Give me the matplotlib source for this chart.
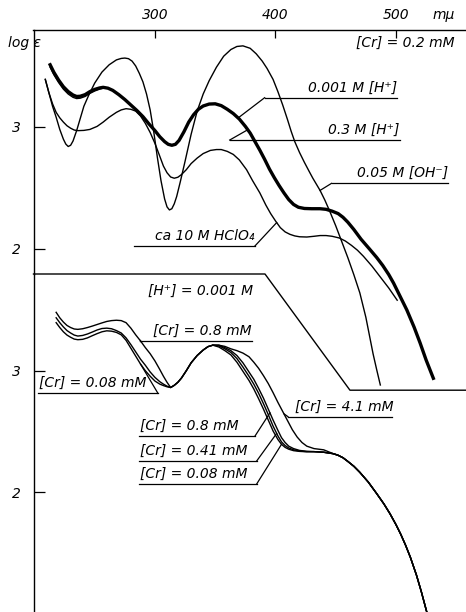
import numpy as np
from matplotlib import pyplot as plt

plt.rcParams['font.family'] = ['DejaVu Sans']
plt.rcParams['font.style'] = 'italic'
plt.rcParams['font.size'] = 10

# --- upper panel, [Cr] = 0.2 mM ---
lam_oh = [209, 212, 215, 218, 221, 224, 226, 228, 230, 232, 235, 238, 241, 245, 250, 256, 262, 268,
          272, 275, 278, 281, 284, 287, 290, 293, 296, 299, 302, 305, 308, 310, 312, 314, 316, 318,
          321, 325, 330, 335, 340, 345, 351, 357, 363, 368, 373, 379, 384, 389, 393, 398, 402, 406,
          410, 413, 416, 420, 424, 428, 431, 434, 437, 441, 445, 450, 455, 460, 465, 470, 475, 478,
          481, 484, 487]
loge_oh = [3.39, 3.28, 3.17, 3.08, 2.98, 2.90, 2.86, 2.84, 2.85, 2.885, 2.97, 3.07, 3.17, 3.26, 3.36,
           3.45, 3.51, 3.55, 3.562, 3.565, 3.56, 3.54, 3.50, 3.44, 3.37, 3.27, 3.14, 2.96, 2.75, 2.56,
           2.41, 2.345, 2.32, 2.33, 2.37, 2.43, 2.55, 2.72, 2.94, 3.13, 3.27, 3.38, 3.49, 3.58, 3.635,
           3.66, 3.665, 3.645, 3.60, 3.54, 3.48, 3.39, 3.29, 3.18, 3.06, 2.965, 2.88, 2.79, 2.71,
           2.635, 2.58, 2.53, 2.48, 2.40, 2.31, 2.19, 2.06, 1.93, 1.79, 1.64, 1.44, 1.29, 1.14, 1.01,
           0.885]

lam_h = [213, 216, 220, 224, 228, 232, 235, 238, 242, 246, 250, 254, 257, 261, 265, 270, 275, 280,
         285, 290, 295, 300, 304, 308, 311, 314, 317, 320, 324, 328, 332, 336, 340, 345, 350, 355,
         360, 365, 370, 375, 379, 383, 387, 391, 395, 399, 403, 407, 411, 415, 419, 424, 430, 437,
         442, 447, 452, 456, 460, 465, 471, 478, 484, 489, 494, 498, 503, 509, 515, 520, 525, 531]
loge_h001 = [3.51, 3.45, 3.385, 3.33, 3.29, 3.262, 3.25, 3.252, 3.265, 3.29, 3.308, 3.32, 3.325,
             3.318, 3.30, 3.265, 3.225, 3.18, 3.135, 3.085, 3.025, 2.97, 2.92, 2.88, 2.858, 2.85,
             2.858, 2.89, 2.96, 3.04, 3.10, 3.145, 3.172, 3.188, 3.19, 3.175, 3.145, 3.11, 3.065,
             3.005, 2.95, 2.88, 2.81, 2.735, 2.655, 2.585, 2.52, 2.46, 2.405, 2.365, 2.342, 2.332,
             2.33, 2.33, 2.325, 2.31, 2.29, 2.26, 2.22, 2.16, 2.08, 2.00, 1.93, 1.865, 1.79, 1.72,
             1.62, 1.50, 1.36, 1.23, 1.09, 0.94]
loge_h03_start = [3.49, 3.43, 3.365, 3.31, 3.27, 3.243, 3.233, 3.236, 3.25, 3.275, 3.295, 3.31, 3.318]
loge_h03 = loge_h03_start + loge_h001[len(loge_h03_start):]

lam_hclo4 = [209, 212, 215, 218, 221, 224, 227, 230, 233, 236, 241, 246, 252, 257, 262, 268, 272,
             276, 280, 284, 288, 292, 296, 300, 304, 307, 310, 313, 316, 319, 322, 326, 330, 335,
             340, 346, 351, 355, 360, 365, 370, 376, 381, 387, 392, 396, 400, 404, 408, 412, 416,
             420, 426, 432, 437, 442, 447, 453, 458, 463, 468, 473, 480, 487, 494, 501]
loge_hclo4 = [3.39, 3.28, 3.19, 3.12, 3.075, 3.04, 3.01, 2.99, 2.975, 2.97, 2.972, 2.98, 3.005,
              3.04, 3.08, 3.12, 3.14, 3.15, 3.145, 3.13, 3.09, 3.03, 2.955, 2.865, 2.76, 2.68,
              2.625, 2.59, 2.58, 2.588, 2.61, 2.65, 2.70, 2.745, 2.782, 2.808, 2.815, 2.815, 2.80,
              2.775, 2.73, 2.65, 2.56, 2.46, 2.36, 2.29, 2.23, 2.175, 2.14, 2.12, 2.107, 2.10, 2.098,
              2.104, 2.11, 2.11, 2.104, 2.09, 2.065, 2.03, 1.99, 1.94, 1.86, 1.77, 1.68, 1.58]

# --- lower panel, [H+] = 0.001 M ---
lam_b_head = [218, 221, 224, 227, 230, 233, 236, 240, 244, 248, 252, 256, 260, 264, 268, 272, 276,
              280, 284, 288, 292, 296, 300, 304, 307, 310]
head_008 = [3.395, 3.355, 3.32, 3.293, 3.275, 3.26, 3.255, 3.258, 3.27, 3.288, 3.305, 3.32, 3.328,
            3.325, 3.315, 3.295, 3.25, 3.185, 3.12, 3.055, 3.0, 2.955, 2.915, 2.89, 2.878, 2.868]
head_041 = [3.435, 3.395, 3.36, 3.33, 3.31, 3.293, 3.285, 3.29, 3.302, 3.318, 3.335, 3.347, 3.35,
            3.345, 3.33, 3.31, 3.27, 3.215, 3.155, 3.095, 3.045, 2.99, 2.945, 2.91, 2.89, 2.873]
head_08 = [3.48, 3.435, 3.40, 3.372, 3.355, 3.343, 3.34, 3.345, 3.355, 3.367, 3.38, 3.393, 3.405,
           3.412, 3.415, 3.412, 3.395, 3.35, 3.295, 3.245, 3.19, 3.14, 3.08, 3.01, 2.955, 2.905]
lam_b_mid = [313, 316, 319, 322, 326, 330, 335, 340, 344, 348]
mid_all = [2.862, 2.88, 2.905, 2.94, 3.0, 3.065, 3.125, 3.17, 3.198, 3.21]
lam_b_flank = [353, 358, 363, 368, 373, 378, 382, 386, 390, 394, 398, 402, 405, 408, 411, 415, 420, 426]
flank_008 = [3.195, 3.165, 3.13, 3.07, 2.995, 2.92, 2.85, 2.77, 2.685, 2.595, 2.505, 2.435, 2.395,
             2.37, 2.355, 2.343, 2.337, 2.334]
flank_041 = [3.205, 3.18, 3.15, 3.10, 3.03, 2.955, 2.89, 2.815, 2.73, 2.64, 2.545, 2.465, 2.415,
             2.385, 2.365, 2.35, 2.34, 2.335]
flank_08 = [3.21, 3.19, 3.165, 3.125, 3.065, 2.99, 2.93, 2.855, 2.775, 2.685, 2.595, 2.51, 2.45,
            2.41, 2.38, 2.36, 2.345, 2.338]
lam_41 = [348, 353, 358, 363, 368, 373, 378, 382, 386, 390, 394, 398, 402, 406, 410, 414, 418, 422,
          426, 432, 440]
loge_41 = [3.21, 3.21, 3.20, 3.18, 3.165, 3.145, 3.115, 3.07, 3.02, 2.96, 2.895, 2.82, 2.74, 2.665,
           2.59, 2.515, 2.455, 2.41, 2.38, 2.36, 2.35]
lam_b_tail = [432, 440, 448, 452, 456, 460, 465, 470, 477, 484, 490, 495, 500, 504, 508, 512, 517,
              521, 526]
tail_all = [2.335, 2.33, 2.318, 2.305, 2.285, 2.255, 2.215, 2.165, 2.085, 1.99, 1.905, 1.825, 1.735,
            1.655, 1.565, 1.465, 1.32, 1.185, 1.00]


def build(head, flank):
    lam = lam_b_head + lam_b_mid + lam_b_flank + lam_b_tail
    val = head + mid_all + flank + tail_all
    return np.array(lam), np.array(val)


def label(ax, txt, x0, x1, y, lam, curve, leader_from, ha='right', tx=None):
    # underline + leader line to the curve, text sitting on the underline
    cx, cy = curve
    ax.plot([x0, x1], [y, y], color='k', lw=0.9)
    lx = x0 if leader_from == 'left' else x1
    ax.plot([lx, lam], [y, np.interp(lam, cx, cy)], color='k', lw=0.9)
    if tx is None:
        tx = x1 if ha == 'right' else x0
    ax.text(tx, y + 0.025, txt, ha=ha, va='bottom', fontsize=10)


W, H = 466, 612
fig = plt.figure(figsize=(W / 100, H / 100), dpi=100)
left = 33.5 / W
xlim = (199.2, 558.1)

ax = fig.add_axes([left, 1 - 400 / H, 1 - left, 370 / H])
axb = fig.add_axes([left, 0, 1 - left, 338 / H])
for a in (ax, axb):
    a.patch.set_alpha(0)
    a.set_xlim(*xlim)
    a.spines['right'].set_visible(False)
    a.spines['bottom'].set_visible(False)
    for s in a.spines.values():
        s.set_linewidth(1.0)
    a.set_yticks([2, 3])
    a.tick_params(axis='y', direction='in', length=8, width=0.9, pad=9, labelsize=10)

ax.set_ylim(0.762, 3.795)
ax.spines['left'].set_bounds(1.795, 3.795)
ax.xaxis.tick_top()
ax.set_xticks([300, 400, 500])
ax.tick_params(axis='x', direction='in', length=6, width=0.9, pad=6, labelsize=10)

axb.set_ylim(1.017, 3.795)
axb.spines['top'].set_visible(False)
axb.set_xticks([])

# upper panel curves
ax.plot(lam_oh, loge_oh, color='k', lw=1.0)
ax.plot(lam_hclo4, loge_hclo4, color='k', lw=1.0)
ax.plot(lam_h, loge_h03, color='k', lw=1.0)
ax.plot(lam_h, loge_h001, color='k', lw=2.4)

label(ax, '0.001 M [H\u207a]', 391, 501, 3.24, 369, (lam_h, loge_h001), 'left')
label(ax, '0.3 M [H\u207a]', 362, 503, 2.893, 377, (lam_h, loge_h001), 'left')
label(ax, '0.05 M [OH\u207b]', 446.5, 543, 2.538, 437, (lam_oh, loge_oh), 'left')
label(ax, 'ca 10 M HClO\u2084', 283, 383, 2.025, 401, (lam_hclo4, loge_hclo4), 'right')
ax.text(549, 3.69, '[Cr] = 0.2 mM', ha='right', va='center', fontsize=10)

# lower panel curves
c008 = build(head_008, flank_008)
c041 = build(head_041, flank_041)
c08 = build(head_08, flank_08)
c41 = (np.array(lam_41 + lam_b_tail[2:]), np.array(loge_41 + tail_all[2:]))
for c in (c008, c041, c08, c41):
    axb.plot(c[0], c[1], color='k', lw=1.0)

# separator / leader of the lower panel title
axb.plot([xlim[0], 391.3, 461.8, xlim[1]], [3.795, 3.795, 2.84, 2.84], color='k', lw=1.0, clip_on=False)
axb.text(294, 3.655, '[H\u207a] = 0.001 M', ha='left', va='center', fontsize=10)

label(axb, '[Cr] = 0.8 mM', 287.5, 380.2, 3.244, 287.5, c08, 'left')
label(axb, '[Cr] = 0.08 mM', 203, 302.5, 2.814, 288, c008, 'right', ha='left', tx=203.5)
label(axb, '[Cr] = 4.1 mM', 410.4, 496.7, 2.622, 407, c41, 'left', ha='left', tx=416)
label(axb, '[Cr] = 0.8 mM', 286.7, 383, 2.463, 395.4, c08, 'right', ha='left', tx=287.6)
label(axb, '[Cr] = 0.41 mM', 286.7, 384.4, 2.258, 401, c041, 'right', ha='left', tx=287.6)
label(axb, '[Cr] = 0.08 mM', 286.7, 384.4, 2.069, 405, c008, 'right', ha='left', tx=287.6)

fig.text(8 / W, 1 - 43 / H, 'log \u03b5', ha='left', va='center', fontsize=10)
fig.text(444 / W, 1 - 15 / H, 'm\u03bc', ha='center', va='center', fontsize=10)

fig.savefig('out.png', dpi=100)
